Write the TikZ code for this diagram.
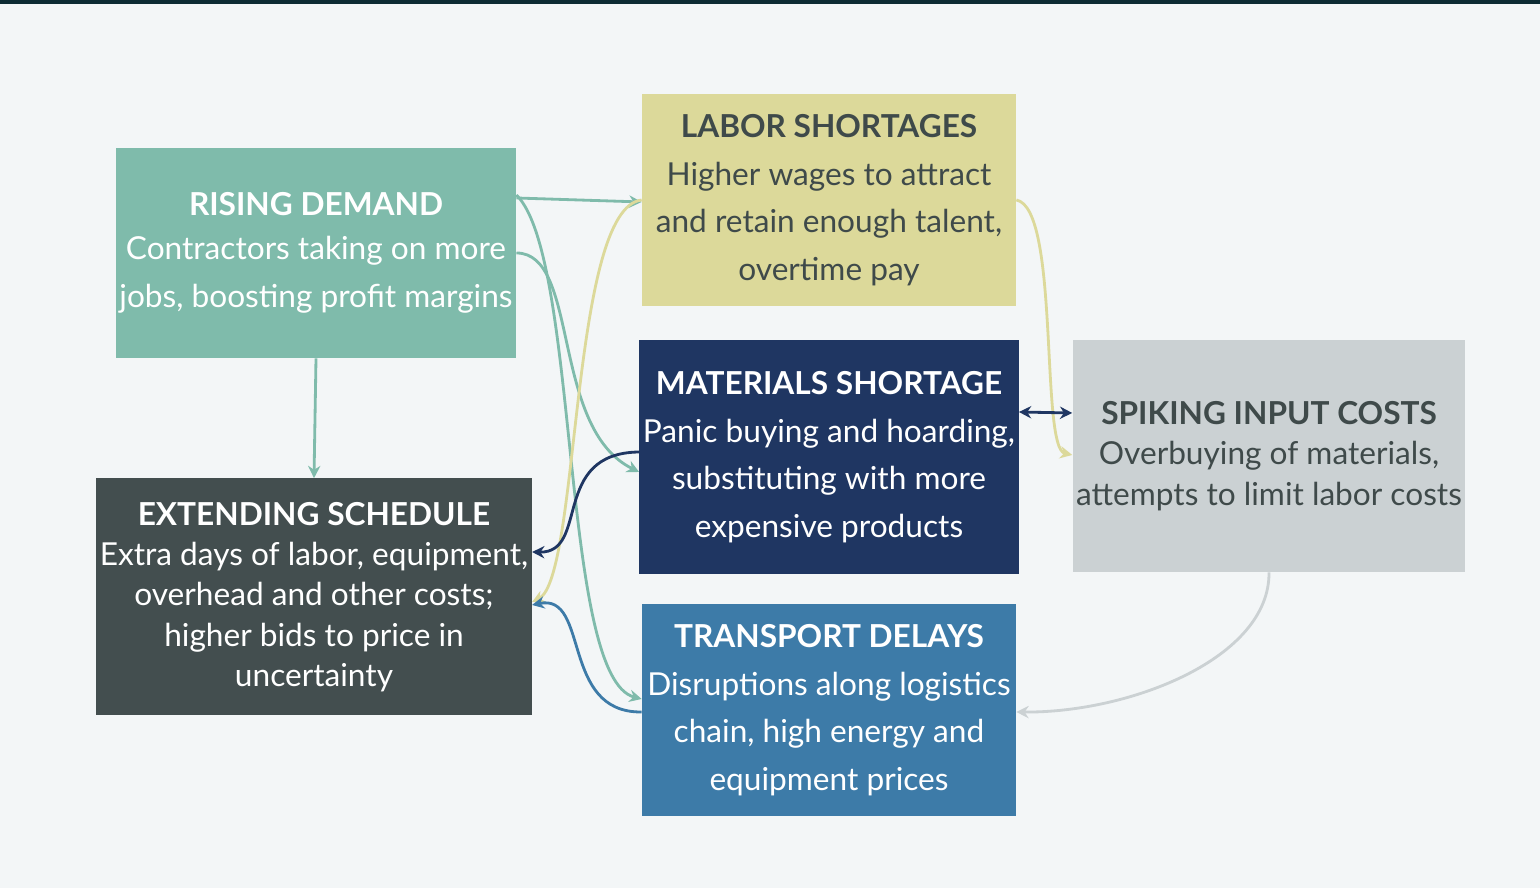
\documentclass[tikz,border=0pt]{standalone}
\usepackage{fontspec}
\setmainfont{Lato}
\usetikzlibrary{positioning,arrows.meta}
\definecolor{bgc}{HTML}{F3F6F7}
\definecolor{topc}{HTML}{0D2B33}
\definecolor{tealc}{HTML}{7FBBAB}
\definecolor{yelc}{HTML}{DCD99A}
\definecolor{navyc}{HTML}{1F3662}
\definecolor{bluec}{HTML}{3D7BA8}
\definecolor{slatec}{HTML}{434E4F}
\definecolor{greyc}{HTML}{CBD1D3}
\definecolor{darktxt}{HTML}{3F4A4A}
\begin{document}
\begin{tikzpicture}[
    box/.style={rectangle, align=center, font=\fontsize{18}{27}\selectfont, inner sep=2pt},
    link/.style={line width=1.6pt, -{Stealth[length=7pt,width=7pt]}}
  ]
  % Hintergrund
  \fill[bgc] (0,0) rectangle (30.8,17.76);
  \useasboundingbox (0,0) rectangle (30.8,17.76);
  \fill[topc] (0,17.68) rectangle (30.8,17.76);

  % Kaesten
  \node[box, fill=tealc, text=white, minimum width=7.52cm, minimum height=4.2cm] (rising) at (6.32,12.70)
    {\textbf{RISING DEMAND}\\[-2pt]Contractors taking on more\\jobs, boosting profit margins};
  \node[box, fill=yelc, text=darktxt, minimum width=7.48cm, minimum height=4.24cm] (labor) at (16.58,13.76)
    {\textbf{LABOR SHORTAGES}\\Higher wages to attract\\and retain enough talent,\\overtime pay};
  \node[box, fill=navyc, text=white, minimum width=7.48cm, minimum height=4.68cm] (materials) at (16.58,8.62)
    {\textbf{MATERIALS SHORTAGE}\\Panic buying and hoarding,\\substituting with more\\expensive products};
  \node[box, fill=bluec, text=white, minimum width=7.48cm, minimum height=4.24cm] (transport) at (16.58,3.56)
    {\textbf{TRANSPORT DELAYS}\\Disruptions along logistics\\chain, high energy and\\equipment prices};
  \node[box, fill=slatec, text=white, minimum width=7.52cm, minimum height=4.74cm] (extending) at (6.28,5.82)
    {\textbf{EXTENDING SCHEDULE}\\[-4pt]Extra days of labor, equipment,\\[-4pt]overhead and other costs;\\[-4pt]higher bids to price in\\[-4pt]uncertainty};
  \node[box, fill=greyc, text=darktxt, minimum width=6.82cm, minimum height=4.64cm] (spiking) at (25.38,8.64)
    {\textbf{SPIKING INPUT COSTS}\\[-4pt]Overbuying of materials,\\[-4pt]attempts to limit labor costs};

  % Pfeile
  \draw[link, tealc] ([yshift=1.1cm]rising.east) -- ([yshift=-0.04cm]labor.west);
  \draw[link, tealc] ([yshift=1.16cm]rising.east) .. controls (11.6,12.6) and (11.2,4.2) .. ([yshift=0.22cm]transport.west);
  \draw[link, tealc] (rising.east) .. controls (11.6,12.7) and (11.0,9.2) .. ([yshift=-0.3cm]materials.west);
  \draw[link, tealc] (rising.south) -- (extending.north);
  \draw[link, yelc] (labor.west) .. controls (11.4,13.6) and (11.6,6.2) .. ([yshift=-0.1cm]extending.east);
  \draw[link, yelc] (labor.east) .. controls (21.2,13.6) and (20.8,8.8) .. ([yshift=0.02cm]spiking.west);
  \draw[line width=1.6pt, navyc, {Stealth[length=7pt,width=7pt]}-{Stealth[length=7pt,width=7pt]}] ([yshift=0.9cm]materials.east) -- ([yshift=0.86cm]spiking.west);
  \draw[link, navyc] ([yshift=0.1cm]materials.west) .. controls (11.0,8.7) and (11.8,6.7) .. ([yshift=0.9cm]extending.east);
  \draw[link, bluec] ([yshift=-0.04cm]transport.west) .. controls (11.2,3.5) and (11.8,5.9) .. ([yshift=-0.16cm]extending.east);
  \draw[link, greyc] (spiking.south) .. controls (25.4,4.6) and (22.6,3.5) .. ([yshift=-0.04cm]transport.east);
\end{tikzpicture}
\end{document}
